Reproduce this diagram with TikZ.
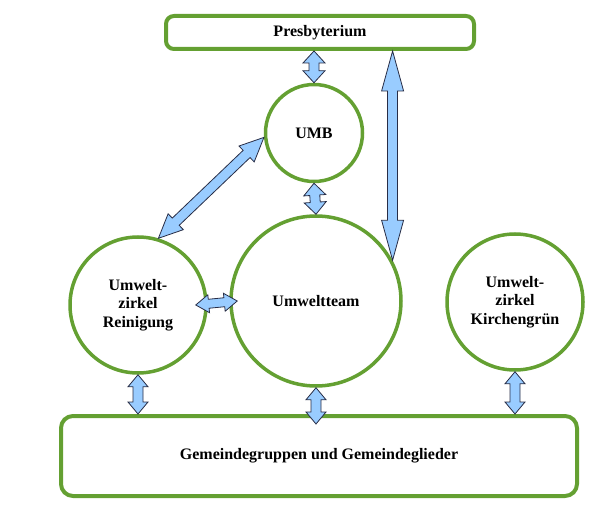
\documentclass[tikz,border=0pt]{standalone}
\usepackage{fontspec}
\setmainfont{Liberation Serif}
\usetikzlibrary{calc}
\definecolor{grn}{RGB}{100,160,50}
\definecolor{lblue}{RGB}{153,204,255}
\definecolor{dkout}{RGB}{40,45,70}
\tikzset{
 txt/.style={font=\bfseries\fontsize{16}{18.5}\selectfont, text=black},
 circ/.style={circle, draw=grn, line width=3.5pt, inner sep=0pt, align=center, txt},
 boxst/.style={rectangle, draw=grn, line width=4pt, rounded corners=8pt, inner sep=0pt, txt},
 arr/.style={fill=lblue, draw=dkout, line width=0.8pt, line join=miter},
}
% #1 start, #2 end, #3 head length, #4 head half width, #5 shaft half width
\newcommand\dblarrow[5]{%
 \coordinate (ha) at ($(#1)!#3!(#2)$);
 \coordinate (hb) at ($(#2)!#3!(#1)$);
 \draw[arr] (#1) -- ($(ha)!#4!90:(#2)$) -- ($(ha)!#5!90:(#2)$) -- ($(hb)!#5!-90:(#1)$) -- ($(hb)!#4!-90:(#1)$) -- (#2) -- ($(hb)!#4!90:(#1)$) -- ($(hb)!#5!90:(#1)$) -- ($(ha)!#5!-90:(#2)$) -- ($(ha)!#4!-90:(#2)$) -- cycle;
}
\begin{document}
\begin{tikzpicture}[x=1pt,y=-1pt]
\useasboundingbox (0,0) rectangle (600,513);
\node[boxst, minimum width=308pt, minimum height=33pt] (pres) at (320,32.5) {Presbyterium};
\node[circ, minimum size=97pt] (umb) at (314,133) {UMB};
\node[circ, minimum size=170pt] (team) at (316,301) {Umweltteam};
\node[circ, minimum size=136pt] (rein) at (138,305) {Umwelt-\\zirkel\\Reinigung};
\node[circ, minimum size=136pt] (kir) at (515,302) {Umwelt-\\zirkel\\Kirchengrün};
\node[boxst, minimum width=516pt, minimum height=80pt, rounded corners=12pt] (bot) at (319,456) {Gemeindegruppen und Gemeindeglieder};

\coordinate (a1) at (umb.north |- pres.south);
\dblarrow{a1}{umb.north}{12pt}{11pt}{5pt}
\coordinate (a2) at (team.28 |- pres.south);
\dblarrow{a2}{team.28}{40pt}{11pt}{5pt}
\dblarrow{umb.185}{rein.73}{24pt}{11pt}{5pt}
\dblarrow{umb.south}{team.north}{12pt}{11pt}{5pt}
\coordinate (a3) at ($(rein.east)+(-12,0)$);
\coordinate (a4) at ($(team.west)+(8,0)$);
\dblarrow{a3}{a4}{13pt}{9pt}{4.5pt}
\coordinate (a5) at (rein.south |- bot.north);
\dblarrow{rein.south}{a5}{12pt}{10pt}{5pt}
\coordinate (a6) at ($(team.south |- bot.north)+(0,10)$);
\dblarrow{team.south}{a6}{12pt}{10pt}{5pt}
\coordinate (a7) at (kir.south |- bot.north);
\dblarrow{kir.south}{a7}{12pt}{10pt}{5pt}
\end{tikzpicture}
\end{document}
